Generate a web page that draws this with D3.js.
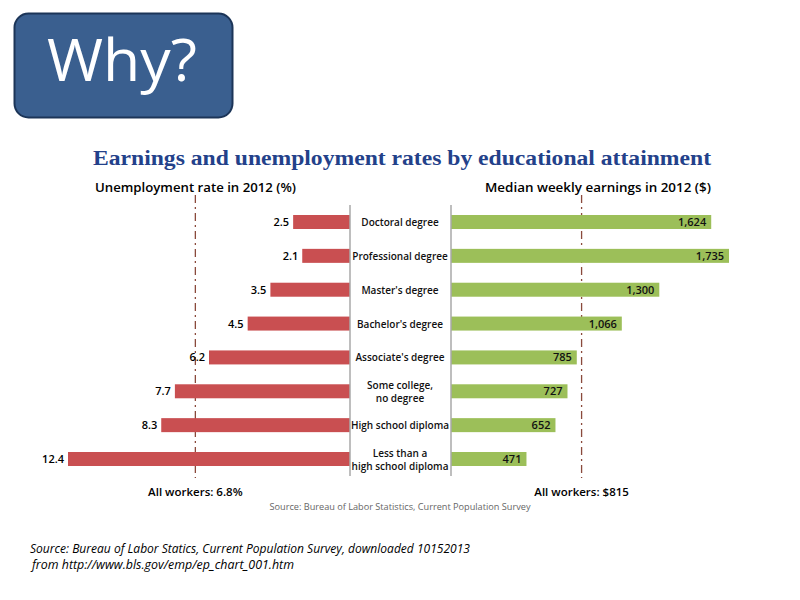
<!DOCTYPE html>
<html>
<head>
<meta charset="utf-8">
<title>Earnings and unemployment rates by educational attainment</title>
<script src="https://d3js.org/d3.v7.min.js"></script>
<style>
  body { margin: 0; background: #fff; }
  text { font-family: "Open Sans", "DejaVu Sans", sans-serif; }
</style>
</head>
<body>
<div id="chart"></div>
<script>
// data
let categories = ["Doctoral degree", "Professional degree", "Master's degree", "Bachelor's degree",
                  "Associate's degree", "Some college, no degree", "High school diploma",
                  "Less than a high school diploma"];
let labelLines = [["Doctoral degree"], ["Professional degree"], ["Master's degree"], ["Bachelor's degree"],
                  ["Associate's degree"], ["Some college,", "no degree"], ["High school diploma"],
                  ["Less than a", "high school diploma"]];
let unemployment = [2.5, 2.1, 3.5, 4.5, 6.2, 7.7, 8.3, 12.4];
let earnings = [1624, 1735, 1300, 1066, 785, 727, 652, 471];
let allWorkersRate = 6.8;
let allWorkersEarnings = 815;

let W = 800, H = 600;
let svg = d3.select("#chart").append("svg")
    .attr("width", W)
    .attr("height", H);

// "Why?" box
svg.append("rect")
    .attr("x", 14.5).attr("y", 13.5)
    .attr("width", 218).attr("height", 104)
    .attr("rx", 14).attr("ry", 14)
    .attr("fill", "#3a5f8f")
    .attr("stroke", "#1c3558")
    .attr("stroke-width", 2);
svg.append("text")
    .attr("x", 122).attr("y", 81)
    .attr("text-anchor", "middle")
    .attr("fill", "#fff")
    .attr("font-size", "58px")
    .attr("textLength", 150).attr("lengthAdjust", "spacingAndGlyphs")
    .text("Why?");

// title + headings
svg.append("text")
    .attr("x", 402).attr("y", 165)
    .attr("text-anchor", "middle")
    .style("font-family", "'Liberation Serif', 'DejaVu Serif', serif")
    .attr("font-weight", "bold")
    .attr("font-size", "20px")
    .attr("fill", "#23418a")
    .attr("textLength", 618)
    .attr("lengthAdjust", "spacingAndGlyphs")
    .text("Earnings and unemployment rates by educational attainment");

svg.append("text")
    .attr("x", 95).attr("y", 192)
    .attr("font-size", "13px").attr("font-weight", 600)
    .attr("textLength", 201).attr("lengthAdjust", "spacingAndGlyphs")
    .text("Unemployment rate in 2012 (%)");
svg.append("text")
    .attr("x", 485).attr("y", 192)
    .attr("font-size", "13px").attr("font-weight", 600)
    .attr("textLength", 226).attr("lengthAdjust", "spacingAndGlyphs")
    .text("Median weekly earnings in 2012 ($)");

// scales
let y = d3.scalePoint().domain(categories).range([222, 459]);
let xL = d3.scaleLinear().domain([0, 12.4]).range([350, 68]);
let xR = d3.scaleLinear().domain([0, 1735]).range([451, 729]);
let barH = 14;

// reference lines (dash-dot)
svg.append("line")
    .attr("x1", xL(allWorkersRate)).attr("x2", xL(allWorkersRate))
    .attr("y1", 195).attr("y2", 478)
    .attr("stroke", "#8a4a3c").attr("stroke-width", 1.3)
    .attr("stroke-dasharray", "8,4,2,4");
svg.append("line")
    .attr("x1", xR(allWorkersEarnings)).attr("x2", xR(allWorkersEarnings))
    .attr("y1", 195).attr("y2", 478)
    .attr("stroke", "#8a4a3c").attr("stroke-width", 1.3)
    .attr("stroke-dasharray", "8,4,2,4");

// unemployment bars
svg.selectAll(".barL")
    .data(unemployment)
    .enter()
    .append("rect")
    .attr("class", "barL")
    .attr("x", d => xL(d))
    .attr("y", (d, i) => y(categories[i]) - barH / 2)
    .attr("width", d => xL(0) - xL(d))
    .attr("height", barH)
    .attr("fill", "#c94f51");

svg.selectAll(".valL")
    .data(unemployment)
    .enter()
    .append("text")
    .attr("class", "valL")
    .attr("x", d => xL(d) - 4)
    .attr("y", (d, i) => y(categories[i]) + 4)
    .attr("text-anchor", "end")
    .attr("font-size", "11px").attr("font-weight", 600)
    .text(d => d3.format(".1f")(d));

// earnings bars
svg.selectAll(".barR")
    .data(earnings)
    .enter()
    .append("rect")
    .attr("class", "barR")
    .attr("x", xR(0))
    .attr("y", (d, i) => y(categories[i]) - barH / 2)
    .attr("width", d => xR(d) - xR(0))
    .attr("height", barH)
    .attr("fill", "#9cbf59");

svg.selectAll(".valR")
    .data(earnings)
    .enter()
    .append("text")
    .attr("class", "valR")
    .attr("x", d => xR(d) - 5)
    .attr("y", (d, i) => y(categories[i]) + 4)
    .attr("text-anchor", "end")
    .attr("font-size", "11px").attr("font-weight", 600)
    .attr("fill", "#111")
    .text(d => d3.format(",")(d));

// gray axis lines either side of the labels
svg.append("line")
    .attr("x1", xL(0)).attr("x2", xL(0))
    .attr("y1", 205).attr("y2", 476)
    .attr("stroke", "#a8a8a8").attr("stroke-width", 1.5);
svg.append("line")
    .attr("x1", xR(0)).attr("x2", xR(0))
    .attr("y1", 205).attr("y2", 476)
    .attr("stroke", "#a8a8a8").attr("stroke-width", 1.5);

// category labels
let lab = svg.selectAll(".cat")
    .data(labelLines)
    .enter()
    .append("text")
    .attr("class", "cat")
    .attr("text-anchor", "middle")
    .attr("font-size", "10px").attr("font-weight", 600)
    .attr("fill", "#111");
lab.selectAll("tspan")
    .data((d, i) => d.map(t => ({t: t, n: d.length, c: categories[i]})))
    .enter()
    .append("tspan")
    .attr("x", 400)
    .attr("y", (d, j) => y(d.c) + 4 + (j - (d.n - 1) / 2) * 13)
    .text(d => d.t);

// bottom notes
svg.append("text")
    .attr("x", xL(allWorkersRate)).attr("y", 496)
    .attr("text-anchor", "middle")
    .attr("font-size", "11.5px").attr("font-weight", 600)
    .text("All workers: 6.8%");
svg.append("text")
    .attr("x", xR(allWorkersEarnings)).attr("y", 496)
    .attr("text-anchor", "middle")
    .attr("font-size", "11.5px").attr("font-weight", 600)
    .text("All workers: $815");
svg.append("text")
    .attr("x", 400).attr("y", 510)
    .attr("text-anchor", "middle")
    .attr("font-size", "9px")
    .attr("fill", "#666")
    .attr("textLength", 261).attr("lengthAdjust", "spacingAndGlyphs")
    .text("Source: Bureau of Labor Statistics, Current Population Survey");

svg.append("text")
    .attr("x", 30).attr("y", 553)
    .attr("font-size", "12px").attr("font-style", "italic")
    .attr("textLength", 440).attr("lengthAdjust", "spacingAndGlyphs")
    .text("Source: Bureau of Labor Statics, Current Population Survey, downloaded 10152013");
svg.append("text")
    .attr("x", 32).attr("y", 569)
    .attr("font-size", "12px").attr("font-style", "italic")
    .attr("textLength", 262).attr("lengthAdjust", "spacingAndGlyphs")
    .text("from http://www.bls.gov/emp/ep_chart_001.htm");
</script>
</body>
</html>
